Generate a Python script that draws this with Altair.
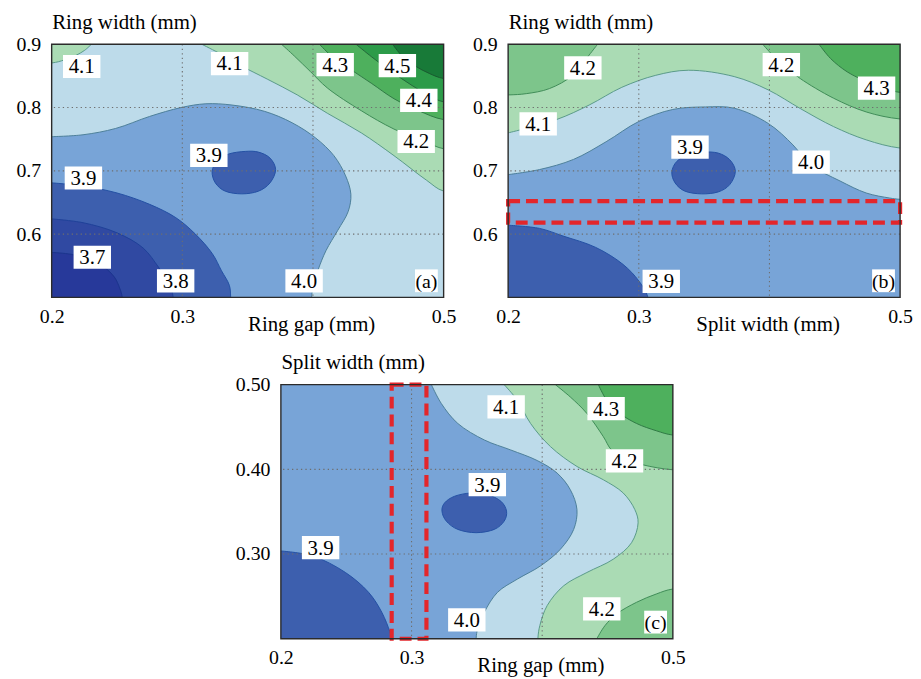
import altair as alt
import pandas as pd

FONT = "Liberation Serif"

# ---------------- axis ranges / ticks ----------------
A_XR = [0.2, 0.5]; A_YR = [0.5, 0.9]
B_XR = [0.2, 0.5]; B_YR = [0.5, 0.9]
C_XR = [0.2, 0.5]; C_YR = [0.2, 0.5]
X_TICKS = [0.2, 0.3, 0.5]
AB_YTICKS = [0.6, 0.7, 0.8, 0.9]
C_YTICKS = [0.3, 0.4, 0.5]
X_GRID = [0.3, 0.4]
AB_YGRID = [0.6, 0.7, 0.8]
C_YGRID = [0.3, 0.4]

# ---------------- panel (a): Ring gap vs Ring width ----------------
A_C40 = [(0.200, 0.754), (0.224, 0.757), (0.249, 0.767), (0.275, 0.786), (0.299, 0.800),
         (0.318, 0.806), (0.338, 0.804), (0.363, 0.794), (0.384, 0.776), (0.402, 0.752),
         (0.416, 0.724), (0.425, 0.692), (0.429, 0.663), (0.427, 0.636), (0.419, 0.606),
         (0.410, 0.574), (0.404, 0.544), (0.400, 0.518), (0.399, 0.500)]
A_C41L = [(0.2304, 0.900), (0.2253, 0.8906), (0.219, 0.883), (0.210, 0.8755), (0.200, 0.8705)]
A_C41R = [(0.315, 0.900), (0.330, 0.884), (0.345, 0.866), (0.365, 0.845), (0.388, 0.820),
          (0.411, 0.791), (0.437, 0.760), (0.462, 0.724), (0.487, 0.685), (0.500, 0.668)]
A_C42 = [(0.376, 0.900), (0.386, 0.881), (0.398, 0.857), (0.411, 0.831), (0.437, 0.795),
         (0.462, 0.766), (0.487, 0.745), (0.500, 0.735)]
A_C43 = [(0.405, 0.900), (0.416, 0.878), (0.429, 0.860), (0.445, 0.838), (0.462, 0.814),
         (0.481, 0.795), (0.500, 0.781)]
A_C44 = [(0.433, 0.900), (0.445, 0.880), (0.460, 0.857), (0.475, 0.836), (0.488, 0.820), (0.500, 0.809)]
A_C45 = [(0.461, 0.900), (0.468, 0.882), (0.478, 0.866), (0.489, 0.854), (0.500, 0.846)]
A_C39 = [(0.200, 0.681), (0.224, 0.676), (0.250, 0.665), (0.275, 0.647), (0.295, 0.626),
         (0.310, 0.600), (0.323, 0.569), (0.330, 0.542), (0.336, 0.519), (0.337, 0.500)]
A_C38 = [(0.200, 0.624), (0.224, 0.618), (0.250, 0.602), (0.270, 0.578), (0.282, 0.547),
         (0.290, 0.522), (0.293, 0.500)]
A_C37 = [(0.200, 0.571), (0.215, 0.568), (0.228, 0.560), (0.240, 0.548), (0.248, 0.532),
         (0.252, 0.515), (0.254, 0.500)]
A_E39 = [(0.3714, 0.7018), (0.3671, 0.7202), (0.3582, 0.7296), (0.3481, 0.7307), (0.3354, 0.7265),
         (0.3266, 0.7149), (0.3228, 0.6992), (0.3253, 0.6809), (0.3329, 0.6678), (0.3456, 0.6636),
         (0.3582, 0.6678), (0.3671, 0.6809)]
A_LBL_T = ["4.1", "4.1", "4.3", "4.5", "4.4", "4.2", "3.9", "3.9", "3.7", "3.8", "4.0"]
A_LBL_X = [0.2230, 0.3362, 0.4170, 0.4646, 0.4810, 0.4790, 0.3203, 0.2243, 0.2311, 0.2949, 0.3932]
A_LBL_Y = [0.8649, 0.8696, 0.8680, 0.8664, 0.8114, 0.7464, 0.7244, 0.6887, 0.5634, 0.5262, 0.5262]
A_TAG = ("(a)", 0.4868, 0.5262)

# ---------------- panel (b): Split width vs Ring width ----------------
B_C40 = [(0.200, 0.694), (0.224, 0.702), (0.250, 0.718), (0.275, 0.746), (0.300, 0.778),
         (0.326, 0.797), (0.351, 0.801), (0.373, 0.799), (0.399, 0.775), (0.418, 0.741),
         (0.431, 0.710), (0.454, 0.684), (0.474, 0.665), (0.492, 0.657), (0.500, 0.655)]
B_C41 = [(0.200, 0.760), (0.237, 0.781), (0.262, 0.804), (0.287, 0.832), (0.313, 0.851),
         (0.338, 0.859), (0.373, 0.849), (0.399, 0.828), (0.424, 0.798), (0.449, 0.770),
         (0.474, 0.749), (0.500, 0.736)]
B_C42L = [(0.2684, 0.900), (0.262, 0.883), (0.2494, 0.851), (0.2316, 0.830), (0.2139, 0.822), (0.200, 0.820)]
B_C42R = [(0.3949, 0.900), (0.4038, 0.880), (0.4139, 0.862), (0.4235, 0.846), (0.4489, 0.815),
          (0.4742, 0.793), (0.500, 0.782)]
B_C43 = [(0.438, 0.900), (0.4468, 0.8775), (0.4595, 0.8565), (0.4747, 0.8408), (0.4899, 0.8292), (0.500, 0.824)]
B_C39 = [(0.200, 0.614), (0.224, 0.609), (0.242, 0.597), (0.267, 0.579), (0.288, 0.552),
         (0.300, 0.526), (0.307, 0.500)]
B_E39 = [(0.3739, 0.6992), (0.3696, 0.7176), (0.3608, 0.7280), (0.3494, 0.7296), (0.3380, 0.7254),
         (0.3291, 0.7149), (0.3253, 0.6982), (0.3278, 0.6809), (0.3354, 0.6678), (0.3481, 0.6636),
         (0.3608, 0.6667), (0.3696, 0.6782)]
B_LBL_T = ["4.2", "4.2", "4.3", "4.1", "3.9", "4.0", "3.9"]
B_LBL_X = [0.2572, 0.4091, 0.4820, 0.2230, 0.3392, 0.4319, 0.3172]
B_LBL_Y = [0.8628, 0.8680, 0.8308, 0.7742, 0.7375, 0.7139, 0.5252]
B_TAG = ("(b)", 0.4873, 0.5262)
B_BAND_Y = [0.618, 0.652]   # highlighted ring-width band

# ---------------- panel (c): Ring gap vs Split width ----------------
C_C40 = [(0.3152, 0.500), (0.3228, 0.4777), (0.3354, 0.4542), (0.3557, 0.4347), (0.3759, 0.4229),
         (0.3962, 0.4104), (0.4114, 0.3956), (0.4215, 0.3760), (0.4266, 0.3525), (0.4241, 0.3291),
         (0.4139, 0.3056), (0.3987, 0.2860), (0.3810, 0.2704), (0.3658, 0.2548), (0.3557, 0.2313),
         (0.3506, 0.2117), (0.3494, 0.200)]
C_C41 = [(0.3709, 0.500), (0.3810, 0.4816), (0.3911, 0.4542), (0.4063, 0.4269), (0.4266, 0.4034),
         (0.4468, 0.3877), (0.4620, 0.3721), (0.4709, 0.3525), (0.4734, 0.3369), (0.4684, 0.3134),
         (0.4544, 0.2939), (0.4342, 0.2782), (0.4165, 0.2626), (0.4038, 0.2391), (0.3982, 0.2156),
         (0.3967, 0.200)]
C_C42T = [(0.4101, 0.500), (0.4215, 0.4855), (0.4342, 0.4660), (0.4468, 0.4386), (0.4530, 0.4230),
          (0.4640, 0.4120), (0.4772, 0.4053), (0.500, 0.3995)]
C_C43 = [(0.4430, 0.500), (0.4494, 0.4816), (0.4595, 0.4660), (0.4722, 0.4542), (0.4873, 0.4456), (0.500, 0.4405)]
C_C42B = [(0.4418, 0.200), (0.4481, 0.2156), (0.4570, 0.2293), (0.4722, 0.2430), (0.4873, 0.2528), (0.500, 0.2587)]
C_C39 = [(0.200, 0.3036), (0.2241, 0.2978), (0.2494, 0.2782), (0.2671, 0.2548), (0.2772, 0.2313),
         (0.2835, 0.2078), (0.2848, 0.200)]
C_E39 = [(0.3727, 0.3506), (0.3684, 0.3623), (0.3582, 0.3701), (0.3456, 0.3721), (0.3329, 0.3682),
         (0.3253, 0.3604), (0.3233, 0.3506), (0.3266, 0.3389), (0.3354, 0.3291), (0.3494, 0.3252),
         (0.3633, 0.3291), (0.3709, 0.3389)]
C_LBL_T = ["4.1", "4.3", "4.2", "3.9", "3.9", "4.0", "4.2"]
C_LBL_X = [0.3724, 0.4489, 0.4630, 0.3580, 0.2304, 0.3423, 0.4456]
C_LBL_Y = [0.4738, 0.4718, 0.4100, 0.3819, 0.3076, 0.2223, 0.2352]
C_TAG = ("(c)", 0.4868, 0.2196)
C_BAND_X = [0.2848, 0.3114]   # highlighted ring-gap band

# ---------------- styles ----------------
FILL = {"<3.7": "#27399a", "3.7": "#3049a2", "3.8": "#3d5fae", "3.9": "#78a4d7",
        "4.0": "#bddbea", "4.1": "#aadbb4", "4.2": "#7dc58b", "4.3": "#4eb05d",
        "4.4": "#2c9b49", "4.5": "#187a38"}
LINE = {"3.7": "#1b348c", "3.8": "#1f4198", "3.9": "#2451a3", "4.0": "#4d7f99",
        "4.1": "#5a9a88", "4.2": "#3f8c58", "4.3": "#2f7a45", "4.4": "#23683a", "4.5": "#1a5a30"}
BOX = "M-1,-0.62L1,-0.62L1,0.62L-1,0.62Z"


def edge_out(pt, xr, yr, px, py):
    x, y = pt
    if abs(x - xr[0]) < 1e-9:
        return (xr[0] - px, y)
    if abs(x - xr[1]) < 1e-9:
        return (xr[1] + px, y)
    if abs(y - yr[0]) < 1e-9:
        return (x, yr[0] - py)
    return (x, yr[1] + py)


def region_df(curve, corners, xr, yr):
    px, py = 0.03, 0.05
    cm = {"TL": (xr[0] - px, yr[1] + py), "TR": (xr[1] + px, yr[1] + py),
          "BL": (xr[0] - px, yr[0] - py), "BR": (xr[1] + px, yr[0] - py)}
    pts = list(curve) + [edge_out(curve[-1], xr, yr, px, py)] + [cm[c] for c in corners] \
        + [edge_out(curve[0], xr, yr, px, py)]
    return pd.DataFrame({"x": [p[0] for p in pts], "y": [p[1] for p in pts], "i": range(len(pts))})


def panel(xr, yr, yticks, yfmt, xtitle, ytitle, regions, ellipse, ygrid,
          lt, lx, ly, tag, band_x=None, band_y=None, w=395, h=255):
    xs = alt.Scale(domain=xr, nice=False, zero=False)
    ys = alt.Scale(domain=yr, nice=False, zero=False)
    xa = alt.Axis(values=X_TICKS, format=".1f", title=xtitle, titleX=261.5, titleY=33,
                  titleAlign="center", titleBaseline="alphabetic", labelPadding=9)
    ya = alt.Axis(values=yticks, format=yfmt, title=ytitle, titleAngle=0, titleX=0, titleY=-16,
                  titleAlign="left", titleBaseline="alphabetic", labelPadding=11)
    X = alt.X("x:Q", scale=xs, axis=xa)
    Y = alt.Y("y:Q", scale=ys, axis=ya)
    box = pd.DataFrame({"x": [xr[0]], "x2": [xr[1]], "y": [yr[0]], "y2": [yr[1]]})
    layers = [alt.Chart(box).mark_rect(fill=FILL["3.9"]).encode(
        x=X, x2=alt.X2("x2"), y=Y, y2=alt.Y2("y2"))]
    for curve, corners, band, lvl in regions:
        df = region_df(curve, corners, xr, yr)
        layers.append(alt.Chart(df).mark_line(
            fill=FILL[band], stroke=LINE[lvl], strokeWidth=1, interpolate="catmull-rom", clip=True
        ).encode(x=X, y=Y, order=alt.Order("i:Q")))
    edf = pd.DataFrame({"x": [p[0] for p in ellipse], "y": [p[1] for p in ellipse],
                        "i": range(len(ellipse))})
    layers.append(alt.Chart(edf).mark_line(
        fill=FILL["3.8"], stroke=LINE["3.9"], strokeWidth=1, interpolate="cardinal-closed"
    ).encode(x=X, y=Y, order=alt.Order("i:Q")))
    gx = pd.DataFrame({"x": X_GRID})
    gy = pd.DataFrame({"y": ygrid})
    gstyle = dict(stroke="#6e6e6e", strokeWidth=1.1, strokeDash=[1.3, 3.2])
    layers.append(alt.Chart(gx).mark_rule(**gstyle).encode(x=X))
    layers.append(alt.Chart(gy).mark_rule(**gstyle).encode(y=Y))
    red = dict(filled=False, stroke="#e3262b", strokeWidth=4.2, strokeDash=[12, 6])
    if band_y is not None:
        rb = pd.DataFrame({"x": [xr[0]], "x2": [xr[1]], "y": [band_y[0]], "y2": [band_y[1]]})
        layers.append(alt.Chart(rb).mark_rect(**red).encode(x=X, x2=alt.X2("x2"), y=Y, y2=alt.Y2("y2")))
    if band_x is not None:
        rb = pd.DataFrame({"x": [band_x[0]], "x2": [band_x[1]], "y": [yr[0]], "y2": [yr[1]]})
        layers.append(alt.Chart(rb).mark_rect(**red).encode(x=X, x2=alt.X2("x2"), y=Y, y2=alt.Y2("y2")))
    lab = pd.DataFrame({"x": lx, "y": ly, "t": lt})
    layers.append(alt.Chart(lab).mark_point(shape=BOX, size=1421, filled=True, fill="white",
                                            opacity=1, strokeWidth=0).encode(x=X, y=Y))
    layers.append(alt.Chart(lab).mark_text(font=FONT, fontSize=21, color="black",
                                           baseline="middle", dy=1).encode(x=X, y=Y, text="t:N"))
    tg = pd.DataFrame({"x": [tag[1]], "y": [tag[2]], "t": [tag[0]]})
    layers.append(alt.Chart(tg).mark_point(shape="square", size=529, filled=True, fill="white",
                                           opacity=1, strokeWidth=0).encode(x=X, y=Y))
    layers.append(alt.Chart(tg).mark_text(font=FONT, fontSize=20, color="black",
                                          baseline="middle", dy=1).encode(x=X, y=Y, text="t:N"))
    layers.append(alt.Chart(box).mark_rect(filled=False, stroke="#2b2b2b", strokeWidth=1.4).encode(
        x=X, x2=alt.X2("x2"), y=Y, y2=alt.Y2("y2")))
    return alt.layer(*layers).properties(width=w, height=h)


panel_a = panel(A_XR, A_YR, AB_YTICKS, ".1f", "Ring gap (mm)", "Ring width (mm)",
                [(A_C40, ["BR", "TR", "TL"], "4.0", "4.0"),
                 (A_C41L, ["TL"], "4.1", "4.1"),
                 (A_C41R, ["TR"], "4.1", "4.1"),
                 (A_C42, ["TR"], "4.2", "4.2"),
                 (A_C43, ["TR"], "4.3", "4.3"),
                 (A_C44, ["TR"], "4.4", "4.4"),
                 (A_C45, ["TR"], "4.5", "4.5"),
                 (A_C39, ["BL"], "3.8", "3.9"),
                 (A_C38, ["BL"], "3.7", "3.8"),
                 (A_C37, ["BL"], "<3.7", "3.7")],
                A_E39, AB_YGRID, A_LBL_T, A_LBL_X, A_LBL_Y, A_TAG)

panel_b = panel(B_XR, B_YR, AB_YTICKS, ".1f", "Split width (mm)", "Ring width (mm)",
                [(B_C40, ["TR", "TL"], "4.0", "4.0"),
                 (B_C41, ["TR", "TL"], "4.1", "4.1"),
                 (B_C42L, ["TL"], "4.2", "4.2"),
                 (B_C42R, ["TR"], "4.2", "4.2"),
                 (B_C43, ["TR"], "4.3", "4.3"),
                 (B_C39, ["BL"], "3.8", "3.9")],
                B_E39, AB_YGRID, B_LBL_T, B_LBL_X, B_LBL_Y, B_TAG, band_y=B_BAND_Y)

panel_c = panel(C_XR, C_YR, C_YTICKS, ".2f", "Ring gap (mm)", "Split width (mm)",
                [(C_C40, ["BR", "TR"], "4.0", "4.0"),
                 (C_C41, ["BR", "TR"], "4.1", "4.1"),
                 (C_C42T, ["TR"], "4.2", "4.2"),
                 (C_C42B, ["BR"], "4.2", "4.2"),
                 (C_C43, ["TR"], "4.3", "4.3"),
                 (C_C39, ["BL"], "3.8", "3.9")],
                C_E39, C_YGRID, C_LBL_T, C_LBL_X, C_LBL_Y, C_TAG, band_x=C_BAND_X, h=256)

spacer = alt.Chart(pd.DataFrame({"s": [0]})).mark_point(opacity=0).encode(
    x=alt.X("s:Q", axis=None), y=alt.Y("s:Q", axis=None)).properties(width=185, height=1)

chart = alt.vconcat(
    alt.hconcat(panel_a, panel_b, spacing=16),
    alt.hconcat(spacer, panel_c, spacing=0),
    spacing=18,
).properties(
    padding={"left": 8, "top": 1, "right": 0, "bottom": 0},
    background="white",
).configure_view(stroke=None).configure_text(font=FONT).configure_axis(
    labelFont=FONT, labelFontSize=20, labelColor="black",
    titleFont=FONT, titleFontSize=21, titleFontWeight="normal", titleColor="black",
    ticks=False, domain=False, grid=False, labelFlush=False, labelOverlap=False,
)

chart.save("out.html", embed_options={"renderer": "svg", "actions": False})
